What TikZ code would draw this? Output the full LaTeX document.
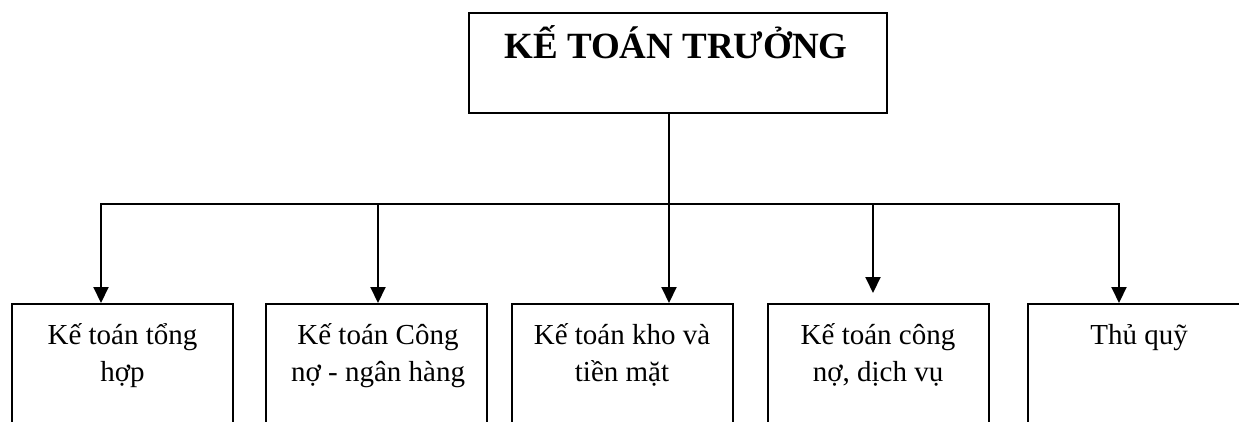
\documentclass[tikz,border=0pt]{standalone}
\usepackage{fontspec}
\setmainfont{Liberation Serif}
\usetikzlibrary{arrows.meta}
\begin{document}
\begin{tikzpicture}[x=1pt,y=-1pt,
  topbox/.style={draw,line width=2pt,minimum width=418pt,minimum height=100pt,anchor=north west,inner sep=0pt},
  subbox/.style={draw,line width=2pt,minimum width=221pt,minimum height=170pt,anchor=north,inner sep=0pt},
  lbl/.style={font=\fontsize{29}{37}\selectfont,align=center,anchor=base,inner sep=0pt},
  toplbl/.style={font=\bfseries\fontsize{37}{40}\selectfont,anchor=base,inner sep=0pt},
  ln/.style={line width=2pt},
  arr/.style={line width=2pt,-{Triangle[length=16pt,width=15pt]}}]
\useasboundingbox (0,0) rectangle (1239,421);
\clip (0,0) rectangle (1239,421);
% top
\node[topbox] (top) at (468,12) {};
\node[toplbl] (toptxt) at (676,58) {KẾ TOÁN TRƯỞNG};
% bottom boxes
\node[subbox] (b1) at (122.5,303) {};
\node[subbox] (b2) at (376,303) {};
\node[subbox] (b3) at (622,303) {};
\node[subbox] (b4) at (878,303) {};
\node[subbox] (b5) at (1138,303) {};
\node[lbl] (l1) at (122.5,381) {Kế toán tổng\\hợp};
\node[lbl] (l2) at (378,381) {Kế toán Công\\nợ - ngân hàng};
\node[lbl] (l3) at (622,381) {Kế toán kho và\\tiền mặt};
\node[lbl] (l4) at (878,381) {Kế toán công\\nợ, dịch vụ};
\node[lbl] (l5) at (1139,344) {Thủ quỹ};
% connectors
\coordinate (j) at (669,204);
\coordinate (a1) at (101,204);
\coordinate (a2) at (378,204);
\coordinate (a4) at (873,204);
\coordinate (a5) at (1119,204);
\draw[ln] (top.south -| j) -- (j);
\draw[arr] (j) -| (a1 |- b1.north);
\draw[arr] (j) -| (a5 |- b5.north);
\draw[arr] (a2) -- (a2 |- b2.north);
\draw[arr] (j) -- (j |- b3.north);
\draw[arr] (a4) -- ([yshift=10pt]a4 |- b4.north);
\end{tikzpicture}
\end{document}
